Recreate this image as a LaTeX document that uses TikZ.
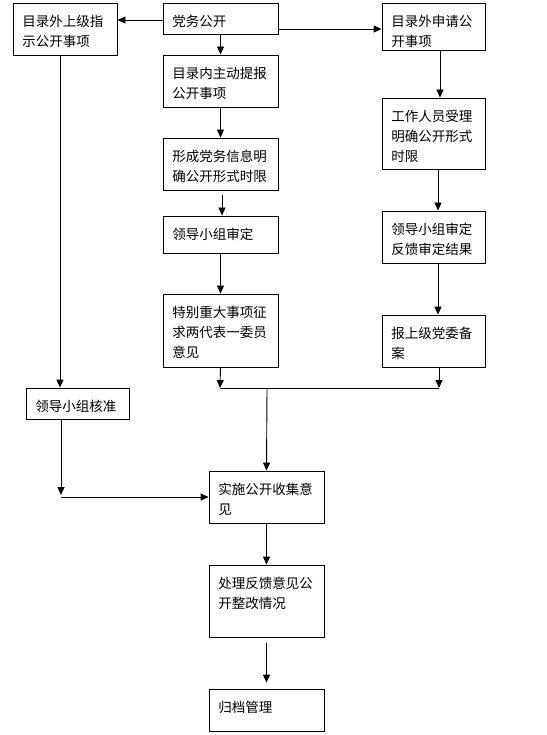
\documentclass[tikz,border=0pt]{standalone}
\usepackage{fontspec}
\newfontfamily\cjk{Noto Sans CJK SC}
\usetikzlibrary{arrows.meta,fit}
\tikzset{
  boxnode/.style={draw=black, line width=0.9pt, inner sep=0pt},
  txt/.style={inner sep=0pt, align=left, anchor=north west, font={\cjk\fontsize{13.5}{20}\selectfont}},
  arr/.style={draw=black, line width=0.9pt, -{Triangle[length=8pt,width=7pt]}},
  ln/.style={draw=black, line width=0.9pt}
}
\newcommand{\mybox}[6]{%
  \node[boxnode, fit={(#2,#3) (#4,#5)}] (#1) {};
  \node[txt] (#1t) at ([xshift=9.5pt,yshift=-12.5pt]#1.north west) {#6};
}
\begin{document}
\begin{tikzpicture}[x=1pt,y=-1pt]
\useasboundingbox[fill=white] (0,0) rectangle (546,735);
\mybox{A}{13}{3}{117}{55}{目录外上级指\\示公开事项}
\mybox{B}{163}{3}{278}{34}{党务公开}
\mybox{C}{382}{3}{485}{50}{目录外申请公\\开事项}
\mybox{D}{163}{55}{278}{107}{目录内主动提报\\公开事项}
\mybox{E}{382}{98}{485}{169}{工作人员受理\\明确公开形式\\时限}
\mybox{F}{163}{138}{278}{190}{形成党务信息明\\确公开形式时限}
\mybox{G}{163}{216}{278}{253}{领导小组审定}
\mybox{H}{382}{211}{485}{263}{领导小组审定\\反馈审定结果}
\mybox{I}{163}{294}{278}{367}{特别重大事项征\\求两代表一委员\\意见}
\mybox{J}{382}{315}{485}{367}{报上级党委备\\案}
\mybox{K}{26}{388}{129}{419}{领导小组核准}
\mybox{L}{209}{471}{324}{523}{实施公开收集意\\见}
\mybox{M}{209}{565}{324}{637}{处理反馈意见公\\开整改情况}
\mybox{N}{209}{689}{324}{731}{归档管理}

\coordinate (m1) at (220,388);
\coordinate (m2) at (439,388);
\coordinate (mm) at (267,388);
\coordinate (k1) at (61,495);
\coordinate (k2) at (61,497);

% top branches
\draw[arr] ([yshift=-1.5pt]B.west) -- ([yshift=-1.5pt]A.east |- B.west);
\draw[arr] ([yshift=-10.5pt]B.east) -- ([yshift=-2.5pt]C.west);
\draw[arr] (B.south) -- (D.north);
% middle column
\draw[arr] (D.south) -- (F.north);
\draw[arr, shorten <=5pt] ([xshift=1.5pt]F.south) -- ([xshift=1.5pt]G.north);
\draw[arr] (G.south) -- (I.north);
\draw[arr] (I.south) -- (m1);
% right column
\draw[arr] ([xshift=6.5pt]C.south) -- ([xshift=6.5pt]E.north);
\draw[arr] ([xshift=4.5pt]E.south) -- ([xshift=4.5pt]H.north);
\draw[arr] ([xshift=4.5pt]H.south) -- ([xshift=4.5pt]J.north);
\draw[arr] ([xshift=5.5pt]J.south) -- (m2);
% merge
\draw[ln] (m1) -- (m2);
\draw[arr] (mm) -- (L.north);
% left column
\draw[arr] ([xshift=-5pt]A.south) -- ([xshift=-5pt]A.south |- K.north);
\draw[arr] ([xshift=-16.5pt]K.south) -- (k1);
\draw[arr] (k2) -- (L.west);
% bottom
\draw[arr] (L.south) -- (M.north);
\draw[arr, shorten <=6pt, shorten >=6pt] (M.south) -- (N.north);
\end{tikzpicture}
\end{document}
